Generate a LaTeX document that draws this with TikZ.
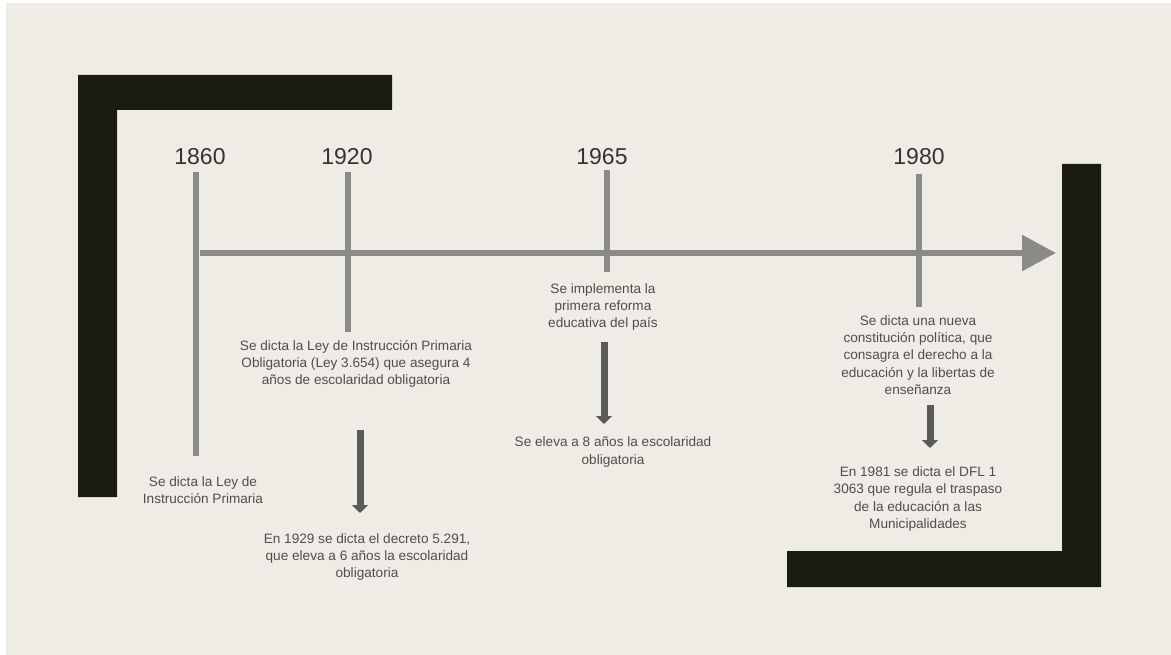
\documentclass[tikz,border=0pt]{standalone}
\usepackage{fontspec}
\setmainfont{Liberation Sans}
\usetikzlibrary{arrows.meta,positioning}
\definecolor{paper}{HTML}{EEECE5}
\definecolor{frm}{HTML}{1B1C10}
\definecolor{tl}{HTML}{8B8B86}
\definecolor{darr}{HTML}{5A5A58}
\definecolor{ink}{HTML}{333333}
\definecolor{txt}{HTML}{4E4E4C}
\tikzset{
  year/.style={font=\fontsize{23}{26}\selectfont,text=ink,inner sep=0pt},
  desc/.style={font=\fontsize{13.6}{17.4}\selectfont,text=txt,align=center,inner sep=0pt},
  stem/.style={tl,line width=5.5pt},
  axisline/.style={tl,line width=6pt,-{Triangle[length=34pt,width=35pt]}},
  next/.style={darr,line width=7pt,-{Triangle[length=8pt,width=16pt]}},
  bracket/.style={fill=frm,draw=none}
}

\begin{document}
\begin{tikzpicture}[x=1pt,y=-1pt]
% ---------------- canvas ----------------
\fill[white] (0,0) rectangle (1171,655);
\fill[paper] (6,3) rectangle (1171,655);
\useasboundingbox (0,0) rectangle (1171,655);
% ---------------- frame brackets ----------------
\fill[bracket] (78,75) -- (392,75) -- (392,110) -- (117,110) -- (117,497) -- (78,497) -- cycle;
\fill[bracket] (1062,164) -- (1101,164) -- (1101,587) -- (787,587) -- (787,551) -- (1062,551) -- cycle;
% ---------------- axis ----------------
\coordinate (ax0) at (200,253);
\coordinate (ax1) at (1056,253);
% ---------------- years ----------------
\node[year] (y1860) at (200,157) {1860};
\node[year] (y1920) at (347,157) {1920};
\node[year] (y1965) at (602,157) {1965};
\node[year] (y1980) at (919,157) {1980};
\coordinate (s1860a) at (196,172);\coordinate (s1860b) at (196,456);
\coordinate (s1920a) at (348,172);\coordinate (s1920b) at (348,332);
\coordinate (s1965a) at (607,170);\coordinate (s1965b) at (607,272);
\coordinate (s1980a) at (919,174);\coordinate (s1980b) at (919,307);
\draw[stem] (s1860a) -- (s1860b);
\draw[stem] (s1920a) -- (s1920b);
\draw[stem] (s1965a) -- (s1965b);
\draw[stem] (s1980a) -- (s1980b);
\draw[axisline] (ax0) -- (ax1);
% ---------------- events ----------------
\node[desc] (d1860) at (203,490) {Se dicta la Ley de\\Instrucción Primaria};
\node[desc] (d1920) at (356,364) {Se dicta la Ley de Instrucción Primaria\\Obligatoria (Ley 3.654) que asegura 4\\años de escolaridad obligatoria};
\node[desc] (d1929) at (367,557) {En 1929 se dicta el decreto 5.291,\\que eleva a 6 años la escolaridad\\obligatoria};
\node[desc] (d1965) at (603,307) {Se implementa la\\primera reforma\\educativa del país};
\node[desc] (d1965b) at (613,452) {Se eleva a 8 años la escolaridad\\obligatoria};
\node[desc] (d1980) at (918,355) {Se dicta una nueva\\constitución política, que\\consagra el derecho a la\\educación y la libertas de\\enseñanza};
\node[desc] (d1981) at (918,499) {En 1981 se dicta el DFL 1\\3063 que regula el traspaso\\de la educación a las\\Municipalidades};
% ---------------- follow-up arrows ----------------
\coordinate (n1920a) at (360,430);\coordinate (n1920b) at (360,513);
\coordinate (n1965a) at (604,342);\coordinate (n1965b) at (604,424);
\coordinate (n1980a) at (930,405);\coordinate (n1980b) at (930,448);
\draw[next] (n1920a) -- (n1920b);
\draw[next] (n1965a) -- (n1965b);
\draw[next] (n1980a) -- (n1980b);
\end{tikzpicture}
\end{document}
